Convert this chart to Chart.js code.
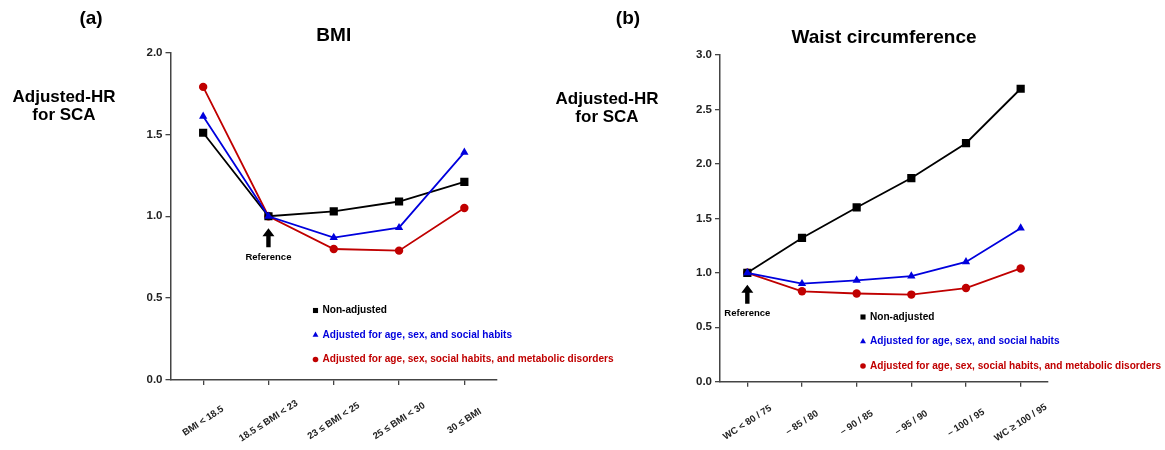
<!DOCTYPE html>
<html lang="en">
<head>
<meta charset="UTF-8">
<title>Adjusted-HR for SCA</title>
<script src="https://cdn.jsdelivr.net/npm/chart.js"></script>
<style>
  body { margin: 0; background: #fff; }
  #wrap { position: relative; width: 1165px; height: 450px; overflow: hidden; }
  canvas { position: absolute; top: 0; }
</style>
</head>
<body>
<div id="wrap">
  <canvas id="bmiChart" width="640" height="450" style="left:0"></canvas>
  <canvas id="wcChart" width="625" height="450" style="left:540px"></canvas>
</div>
<script>
// (a) BMI
const bmiLabels = ['BMI < 18.5', '18.5 \u2264 BMI < 23', '23 \u2264 BMI < 25', '25 \u2264 BMI < 30', '30 \u2264 BMI'];
const bmiNonAdj = [1.51, 1.00, 1.03, 1.09, 1.21];
const bmiAdj = [1.61, 1.00, 0.87, 0.93, 1.39];
const bmiAdjMeta = [1.79, 1.00, 0.80, 0.79, 1.05];

// (b) waist circumference
const wcLabels = ['WC < 80 / 75', '\u2013 85 / 80', '\u2013 90 / 85', '\u2013 95 / 90', '\u2013 100 / 95', 'WC \u2265 100 / 95'];
const wcNonAdj = [1.00, 1.32, 1.60, 1.87, 2.19, 2.69];
const wcAdj = [1.00, 0.90, 0.93, 0.97, 1.10, 1.41];
const wcAdjMeta = [1.00, 0.83, 0.81, 0.80, 0.86, 1.04];

const seriesNames = ['Non-adjusted', 'Adjusted for age, sex, and social habits',
  'Adjusted for age, sex, social habits, and metabolic disorders'];
const yTitle = ['Adjusted-HR', 'for SCA'];

const FONT = 'Arial, "Liberation Sans", sans-serif';
const BLACK = '#000000', BLUE = '#0000dd', RED = '#c00000';
const legendRadius = { rect: 3.6, triangle: 3.4, circle: 2.8 };

// titles, rotated x labels, reference arrow and in-plot legend
const extras = {
  id: 'extras',
  afterDraw(chart, args, o) {
    const ctx = chart.ctx, a = chart.chartArea;
    const xs = chart.scales.x, ys = chart.scales.y;
    ctx.save();
    ctx.fillStyle = '#000';
    ctx.textAlign = 'center';
    ctx.textBaseline = 'middle';

    ctx.font = 'bold 19px ' + FONT;
    ctx.fillText(o.panel, o.panelX, 19);
    ctx.fillText(o.title, (a.left + a.right) / 2, a.top - 17);

    ctx.font = 'bold 17px ' + FONT;
    yTitle.forEach((t, i) => ctx.fillText(t, o.yTitleX, o.yTitleY + i * 18));

    ctx.font = 'bold 9.5px ' + FONT;
    ctx.fillStyle = '#222';
    chart.data.labels.forEach((lab, i) => {
      ctx.save();
      ctx.translate(xs.getPixelForTick(i), a.bottom + 41);
      ctx.rotate(-33 * Math.PI / 180);
      ctx.fillText(lab, 0, 0);
      ctx.restore();
    });

    // arrow pointing at the reference category
    const rx = xs.getPixelForValue(o.refIndex), ry = ys.getPixelForValue(1);
    ctx.fillStyle = '#000';
    ctx.beginPath();
    ctx.moveTo(rx, ry + 12);
    ctx.lineTo(rx + 6, ry + 20);
    ctx.lineTo(rx + 2.2, ry + 20);
    ctx.lineTo(rx + 2.2, ry + 31);
    ctx.lineTo(rx - 2.2, ry + 31);
    ctx.lineTo(rx - 2.2, ry + 20);
    ctx.lineTo(rx - 6, ry + 20);
    ctx.closePath();
    ctx.fill();
    ctx.font = 'bold 9.5px ' + FONT;
    ctx.fillText('Reference', rx, ry + 41);

    ctx.textAlign = 'left';
    ctx.font = 'bold 10.1px ' + FONT;
    chart.data.datasets.forEach((ds, i) => {
      const y = a.top + o.legendTop + i * o.legendGap;
      const mx = a.left + o.legendLeft;
      ctx.fillStyle = ds.borderColor;
      Chart.helpers.drawPoint(ctx, {pointStyle: ds.pointStyle, radius: legendRadius[ds.pointStyle], rotation: 0, borderWidth: 0}, mx, y);
      ctx.fillStyle = ds.borderColor;
      ctx.fillText(seriesNames[i], mx + 7, y);
    });
    ctx.restore();
  }
};

function lineSet(data, color, style, radius, order) {
  return {
    data: data,
    borderColor: color,
    backgroundColor: color,
    borderWidth: 1.8,
    pointStyle: style,
    pointRadius: radius,
    pointBorderWidth: 0,
    tension: 0,
    order: order
  };
}

function makeChart(id, labels, nonAdj, adj, adjMeta, yMax, pad, yWidth, xHeight, extraOpts) {
  return new Chart(document.getElementById(id), {
    type: 'line',
    data: {
      labels: labels,
      datasets: [
        lineSet(nonAdj, BLACK, 'rect', 5.8, 1),
        lineSet(adj, BLUE, 'triangle', 4.8, 0),
        lineSet(adjMeta, RED, 'circle', 4.2, 2)
      ]
    },
    options: {
      responsive: false,
      animation: false,
      devicePixelRatio: 1,
      layout: { padding: pad },
      plugins: { legend: { display: false }, tooltip: { enabled: false }, extras: extraOpts },
      scales: {
        x: {
          offset: true,
          ticks: { display: false },
          grid: { drawOnChartArea: false, tickLength: 5, color: '#444', lineWidth: 1.3, offset: false },
          border: { color: '#444', width: 1.5 },
          afterFit: s => { s.height = xHeight; }
        },
        y: {
          min: 0,
          max: yMax,
          ticks: {
            stepSize: 0.5,
            callback: v => v.toFixed(1),
            font: { family: FONT, size: 11.5, weight: 'bold' },
            color: '#222',
            padding: 3
          },
          grid: { drawOnChartArea: false, tickLength: 5, color: '#444', lineWidth: 1.3 },
          border: { color: '#444', width: 1.5 },
          afterFit: s => { s.width = yWidth; }
        }
      }
    },
    plugins: [extras]
  });
}

makeChart('bmiChart', bmiLabels, bmiNonAdj, bmiAdj, bmiAdjMeta, 2.0,
  { left: 120.5, right: 143, top: 52.5, bottom: 0 }, 50, 70,
  { panel: '(a)', panelX: 91, title: 'BMI', yTitleX: 64, yTitleY: 97, refIndex: 1,
    legendLeft: 145, legendTop: 258, legendGap: 24.5 });

makeChart('wcChart', wcLabels, wcNonAdj, wcAdj, wcAdjMeta, 3.0,
  { left: 130, right: 117, top: 55, bottom: 0 }, 50, 68.3,
  { panel: '(b)', panelX: 88, title: 'Waist circumference', yTitleX: 67, yTitleY: 99, refIndex: 0,
    legendLeft: 143, legendTop: 262, legendGap: 24.5 });
</script>
</body>
</html>
